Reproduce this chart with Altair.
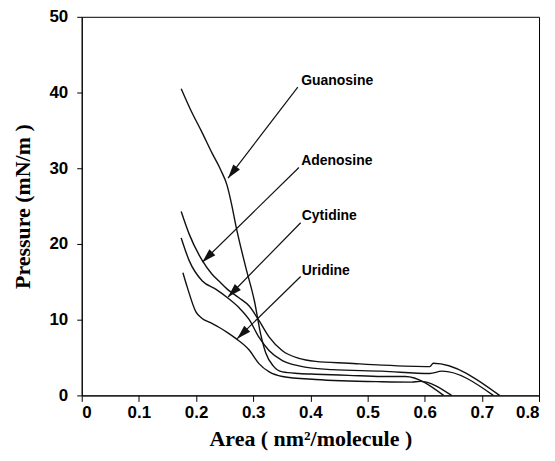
import math
import altair as alt
import pandas as pd

series_names = ["Guanosine", "Adenosine", "Cytidine", "Uridine"]

guanosine_area = [0.174, 0.190, 0.210, 0.228, 0.243, 0.254, 0.262, 0.270, 0.287, 0.302, 0.313,
                  0.322, 0.335, 0.351, 0.380, 0.409, 0.467, 0.525, 0.566, 0.633]
guanosine_pressure = [40.5, 37.8, 34.8, 32.0, 29.8, 27.8, 25.3, 22.3, 16.9, 12.5, 8.1,
                      5.6, 3.9, 3.1, 2.9, 2.8, 2.65, 2.5, 2.5, 0.0]

adenosine_area = [0.174, 0.188, 0.211, 0.228, 0.240, 0.255, 0.275, 0.293, 0.310, 0.328, 0.351, 0.380,
                  0.409, 0.467, 0.525, 0.609, 0.615, 0.731]
adenosine_pressure = [24.3, 21.3, 17.8, 16.0, 15.1, 14.0, 12.9, 11.8, 9.9, 7.7, 5.9, 4.9,
                      4.5, 4.25, 4.0, 3.8, 4.25, 0.0]

cytidine_area = [0.174, 0.188, 0.211, 0.235, 0.255, 0.275, 0.293, 0.310, 0.328, 0.351, 0.380, 0.438,
                 0.525, 0.609, 0.630, 0.720]
cytidine_pressure = [20.8, 17.8, 15.1, 14.0, 12.9, 11.6, 10.0, 7.7, 5.9, 4.6, 3.9, 3.4,
                     3.2, 2.9, 3.2, 0.0]

uridine_area = [0.177, 0.185, 0.200, 0.210, 0.225, 0.240, 0.255, 0.270, 0.293, 0.310, 0.328, 0.351,
                0.409, 0.525, 0.577, 0.592, 0.647]
uridine_pressure = [16.2, 14.2, 11.0, 10.2, 9.6, 9.0, 8.3, 7.5, 6.0, 4.2, 3.1, 2.5,
                    2.1, 1.8, 1.75, 1.85, 0.0]

# annotation labels and arrows (data units)
label_area = [0.384, 0.384, 0.385, 0.385]
label_pressure = [41.5, 30.9, 23.7, 16.4]
arrow_tail_area = [0.378, 0.380, 0.383, 0.383]
arrow_tail_pressure = [40.7, 30.1, 22.8, 15.7]
arrow_tip_area = [0.256, 0.211, 0.256, 0.272]
arrow_tip_pressure = [28.7, 17.6, 13.0, 7.5]

x_ticks = [0, 0.1, 0.2, 0.3, 0.4, 0.5, 0.6, 0.7, 0.8]
y_ticks = [0, 5, 10, 15, 20, 25, 30, 35, 40, 45, 50]

W, H = 459, 380
XMAX, YMAX = 0.8, 50

rows = []
for name, xs, ys in [("Guanosine", guanosine_area, guanosine_pressure),
                     ("Adenosine", adenosine_area, adenosine_pressure),
                     ("Cytidine", cytidine_area, cytidine_pressure),
                     ("Uridine", uridine_area, uridine_pressure)]:
    for i, (a, p) in enumerate(zip(xs, ys)):
        rows.append({"series": name, "area": a, "pressure": p, "order": i})
curves = pd.DataFrame(rows)

sx = W / XMAX
sy = H / YMAX
arrow_rows = []
head_rows = []
for i, name in enumerate(series_names):
    ta, tp = arrow_tail_area[i], arrow_tail_pressure[i]
    ha, hp = arrow_tip_area[i], arrow_tip_pressure[i]
    arrow_rows.append({"series": name, "a": ta, "p": tp, "a2": ha, "p2": hp})
    dxp = (ha - ta) * sx
    dyp = -(hp - tp) * sy  # screen y downwards
    L = math.hypot(dxp, dyp)
    ux, uy = dxp / L, dyp / L
    ang = math.degrees(math.atan2(dxp, -dyp)) % 360
    back = 7.0
    head_rows.append({"series": name, "a": ha - back * ux / sx, "p": hp + back * uy / sy, "angle": ang})
arrows = pd.DataFrame(arrow_rows)
heads = pd.DataFrame(head_rows)
labels = pd.DataFrame({"series": series_names, "a": label_area, "p": label_pressure})

xscale = alt.Scale(domain=[0, XMAX], nice=False, zero=False)
yscale = alt.Scale(domain=[0, YMAX], nice=False, zero=False)

xaxis = alt.Axis(values=x_ticks, format="~g", grid=False, tickSize=6, tickColor="black",
                 domainColor="black", labelFont="Liberation Sans", labelFontWeight="bold",
                 labelFontSize=17, labelColor="black", labelPadding=3,
                 title="Area ( nm²/molecule )", titleFont="Liberation Serif",
                 titleFontWeight="bold", titleFontSize=22, titleColor="black", titlePadding=8)
yaxis = alt.Axis(values=y_ticks, labelExpr="datum.value % 10 === 0 ? datum.label : ''",
                 grid=False,
                 tickSize={"condition": {"test": "datum.value % 10 === 0", "value": 5}, "value": 3},
                 tickColor="black", domainColor="black", labelFont="Liberation Sans",
                 labelFontWeight="bold", labelFontSize=17, labelColor="black", labelPadding=9,
                 title="Pressure (mN/m )", titleFont="Liberation Serif", titleFontWeight="bold",
                 titleFontSize=22, titleColor="black", titlePadding=15)

lines = alt.Chart(curves).mark_line(color="#111111", strokeWidth=1.4, interpolate="monotone").encode(
    x=alt.X("area:Q", scale=xscale, axis=xaxis),
    y=alt.Y("pressure:Q", scale=yscale, axis=yaxis),
    detail="series:N",
    order="order:Q",
)

arrow_lines = alt.Chart(arrows).mark_rule(color="#111111", strokeWidth=1.2).encode(
    x="a:Q", y="p:Q", x2="a2:Q", y2="p2:Q"
)

arrow_heads = alt.Chart(heads).mark_point(
    shape="M0,-1L0.6,1L-0.6,1Z", filled=True, color="#111111", size=200, opacity=1
).encode(x="a:Q", y="p:Q", angle=alt.Angle("angle:Q", scale=None))

texts = alt.Chart(labels).mark_text(
    align="left", baseline="middle", font="Liberation Sans", fontWeight="bold",
    fontSize=14, color="black"
).encode(x="a:Q", y="p:Q", text="series:N")

chart = alt.layer(lines, arrow_lines, arrow_heads, texts).properties(
    width=W, height=H,
    autosize=alt.AutoSizeParams(type="none"),
    padding={"left": 74, "top": 8, "right": 8, "bottom": 66},
    background="white",
).configure_view(stroke="black", strokeWidth=1)

chart.save("out.html", embed_options={"renderer": "svg", "actions": False})
